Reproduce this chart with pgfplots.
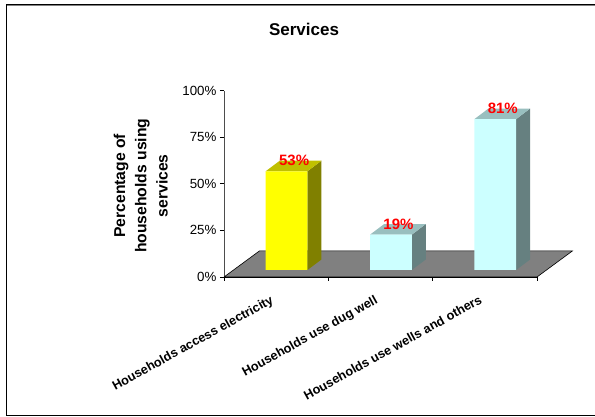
\documentclass[border=0pt]{standalone}
\usepackage{fontspec}
\setmainfont{Liberation Sans}
\usepackage{pgfplots}
\pgfplotsset{compat=1.18}
\definecolor{floorgray}{HTML}{808080}
\definecolor{ybar}{HTML}{FFFF00}
\definecolor{ybarside}{HTML}{808000}
\definecolor{ybartop}{HTML}{C0C000}
\definecolor{cbar}{HTML}{CCFFFF}
\definecolor{cbarside}{HTML}{668080}
\definecolor{cbartop}{HTML}{99BFBF}
\begin{document}
\begin{tikzpicture}[x=1pt,y=1pt]
\useasboundingbox (0,0) rectangle (595,417);
\draw[floorgray,line width=0.8pt] (595,411.3) -- (7,411.3);
\draw[black,line width=1pt] (595,412.3) -- (6.5,412.3) -- (6.5,1) -- (595,1);
\begin{axis}[
  at={(224pt,140pt)}, anchor=south west,
  scale only axis, width=313pt, height=186.3pt,
  xmin=0, xmax=3, ymin=0, ymax=100,
  clip=false,
  axis x line*=bottom, axis y line*=left,
  axis line style={-, line width=0.9pt},
  y axis line style={draw=floorgray!60!black},
  tick align=outside,
  ytick={0,25,50,75,100},
  yticklabel={\pgfmathprintnumber{\tick}\%},
  /pgf/number format/assume math mode=true,
  yticklabel style={font=\fontsize{13.3}{13.3}\selectfont},
  major tick length=4pt, minor tick length=4pt,
  ytick style={black,line width=0.7pt},
  xtick={0.5,1.5,2.5},
  minor xtick={0,1,2,3},
  major x tick style={draw=none},
  minor x tick style={black,line width=0.7pt},
  xticklabels={Households access electricity,Households use dug well,Households use wells and others},
  xticklabel style={font=\bfseries\fontsize{12.7}{12.7}\selectfont, rotate=29, anchor=north east, inner sep=0pt, xshift=-12.2pt, yshift=-8.6pt},
  title={Services},
  title style={font=\bfseries\fontsize{17}{17}\selectfont, at={(axis description cs:0.2556,1.296)}, anchor=center},
  ylabel={Percentage of\\households using\\services},
  ylabel style={font=\bfseries\fontsize{15.7}{21.2}\selectfont, align=center, at={(axis description cs:-0.266,0.49)}, anchor=center},
]
% floor of the chart
\addplot[fill=floorgray, draw=black, line width=0.6pt] coordinates {(0,0) (3,0) (3.34,14) (0.34,14) (0,0)};
% yellow column, value 53
\addplot[fill=ybarside, draw=none, yshift=7pt] coordinates {(0.8,0) (0.934,5.64) (0.934,58.64) (0.8,53) (0.8,0)};
\addplot[fill=ybartop, draw=none, yshift=7pt] coordinates {(0.4,53) (0.8,53) (0.934,58.64) (0.534,58.64) (0.4,53)};
\addplot[fill=ybar, draw=none, yshift=7pt] coordinates {(0.4,0) (0.8,0) (0.8,53) (0.4,53) (0.4,0)};
% pale column, value 19
\addplot[fill=cbarside, draw=none, yshift=7pt] coordinates {(1.8,0) (1.934,5.64) (1.934,24.64) (1.8,19) (1.8,0)};
\addplot[fill=cbartop, draw=none, yshift=7pt] coordinates {(1.4,19) (1.8,19) (1.934,24.64) (1.534,24.64) (1.4,19)};
\addplot[fill=cbar, draw=none, yshift=7pt] coordinates {(1.4,0) (1.8,0) (1.8,19) (1.4,19) (1.4,0)};
% pale column, value 81
\addplot[fill=cbarside, draw=none, yshift=7pt] coordinates {(2.8,0) (2.934,5.64) (2.934,86.64) (2.8,81) (2.8,0)};
\addplot[fill=cbartop, draw=none, yshift=7pt] coordinates {(2.4,81) (2.8,81) (2.934,86.64) (2.534,86.64) (2.4,81)};
\addplot[fill=cbar, draw=none, yshift=7pt] coordinates {(2.4,0) (2.8,0) (2.8,81) (2.4,81) (2.4,0)};
% value labels
\addplot[draw=none, mark=none, point meta=y,
  nodes near coords={\pgfmathprintnumber{\pgfplotspointmeta}\%},
  every node near coord/.style={font=\bfseries\fontsize{15}{15}\selectfont, text=red, anchor=center, xshift=7.5pt, yshift=17.5pt, inner sep=0pt}]
  coordinates {(0.6,53) (1.6,19) (2.6,81)};
\end{axis}
\end{tikzpicture}
\end{document}
